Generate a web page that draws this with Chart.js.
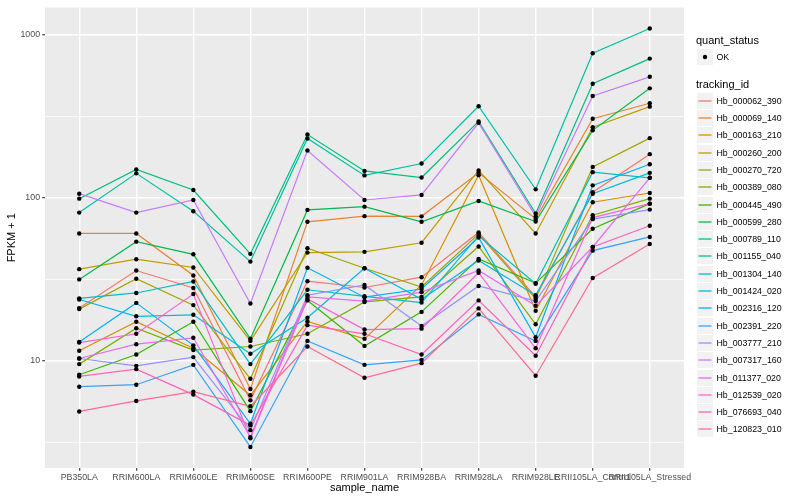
<!DOCTYPE html>
<html>
<head>
<meta charset="utf-8">
<script src="https://cdn.jsdelivr.net/npm/chart.js@4.4.1/dist/chart.umd.min.js"></script>
<style>
  html, body { margin: 0; padding: 0; background: #FFFFFF; }
  #wrap { position: relative; width: 800px; height: 500px; font-family: "Liberation Sans", Arial, sans-serif; }
  #c { position: absolute; left: 0; top: 0; }
  .lg { position: absolute; white-space: nowrap; color: #000; }
  .title { font-size: 11px; line-height: 13px; }
  .lab { font-size: 8.8px; line-height: 11px; }
  .key { position: absolute; width: 16px; height: 16px; background: #F2F2F2; }
  .key svg { position: absolute; left: 0; top: 0; }
</style>
</head>
<body>
<div id="wrap">
  <canvas id="c" width="800" height="500"></canvas>
  <div id="legend"></div>
</div>
<script>
// ---- data ----
const categories = ['PB350LA','RRIM600LA','RRIM600LE','RRIM600SE','RRIM600PE','RRIM901LA','RRIM928BA','RRIM928LA','RRIM928LE','RRII105LA_Control','RRII105LA_Stressed'];

const Hb_000062_390 = [21.0, 35.7, 27.9, 5.70, 30.7, 28.1, 32.5, 61.2, 24.6, 108, 185];
const Hb_000069_140 = [60.3, 60.3, 33.3, 6.69, 71.1, 77.0, 76.8, 142, 74.1, 305, 380];
const Hb_000163_210 = [11.5, 17.3, 11.9, 6.12, 17.4, 13.6, 29.1, 137.5, 20.2, 93.8, 106.8];
const Hb_000260_200 = [36.4, 41.9, 37.3, 13.2, 46.0, 46.5, 52.9, 147, 60.3, 271, 362];
const Hb_000270_720 = [20.7, 31.8, 21.9, 7.73, 48.9, 36.9, 28.3, 59.8, 24.0, 154.5, 232];
const Hb_000389_080 = [9.51, 15.8, 11.6, 12.2, 14.6, 22.9, 24.6, 50.2, 16.7, 78.1, 98.6];
const Hb_000445_490 = [8.18, 10.9, 17.3, 4.89, 23.4, 12.3, 19.9, 42.1, 29.9, 64.4, 91.9];
const Hb_000599_280 = [31.5, 53.7, 44.9, 13.6, 84.1, 88.1, 71.1, 95.5, 71.4, 259, 469];
const Hb_000789_110 = [98.6, 149, 111.4, 45.2, 244, 146, 133, 294, 79.9, 500, 714];
const Hb_001155_040 = [81.0, 141, 82.6, 40.5, 231, 137, 162, 364, 112.5, 770, 1094];
const Hb_001304_140 = [24.1, 26.0, 30.6, 9.51, 27.2, 24.8, 22.7, 58.4, 29.6, 143.4, 132.4];
const Hb_001424_020 = [23.7, 18.7, 19.1, 11.0, 18.3, 36.9, 23.8, 41.1, 25.2, 105.8, 142];
const Hb_002316_120 = [13.0, 22.6, 12.4, 4.09, 37.1, 24.5, 27.5, 57.0, 13.9, 119, 160.5];
const Hb_002391_220 = [6.91, 7.11, 9.41, 2.95, 13.2, 9.41, 10.1, 19.2, 13.2, 47.3, 57.4];
const Hb_003777_210 = [10.3, 9.28, 10.5, 3.74, 25.2, 29.1, 16.3, 28.7, 23.2, 73.8, 84.5];
const Hb_007317_160 = [105.8, 81.0, 96.8, 22.4, 195, 96.8, 103.9, 288, 76.8, 421, 552];
const Hb_011377_020 = [10.3, 12.6, 13.8, 3.39, 24.6, 23.2, 26.3, 35.7, 21.7, 49.8, 132.4];
const Hb_012539_020 = [12.9, 14.6, 25.6, 3.33, 23.9, 15.5, 15.7, 34.6, 11.9, 75.5, 91.9];
const Hb_076693_040 = [7.99, 8.86, 6.18, 4.00, 16.5, 14.6, 10.9, 23.4, 10.7, 49.8, 67.2];
const Hb_120823_010 = [4.87, 5.65, 6.44, 5.24, 12.2, 7.84, 9.64, 20.9, 8.07, 32.1, 52.0];

const trackingIds = ['Hb_000062_390','Hb_000069_140','Hb_000163_210','Hb_000260_200','Hb_000270_720','Hb_000389_080','Hb_000445_490','Hb_000599_280','Hb_000789_110','Hb_001155_040','Hb_001304_140','Hb_001424_020','Hb_002316_120','Hb_002391_220','Hb_003777_210','Hb_007317_160','Hb_011377_020','Hb_012539_020','Hb_076693_040','Hb_120823_010'];
const seriesValues = [Hb_000062_390,Hb_000069_140,Hb_000163_210,Hb_000260_200,Hb_000270_720,Hb_000389_080,Hb_000445_490,Hb_000599_280,Hb_000789_110,Hb_001155_040,Hb_001304_140,Hb_001424_020,Hb_002316_120,Hb_002391_220,Hb_003777_210,Hb_007317_160,Hb_011377_020,Hb_012539_020,Hb_076693_040,Hb_120823_010];
const seriesColors = ['#F8766D','#EA8331','#D89000','#C09B00','#A3A500','#7CAE00','#39B600','#00BB4E','#00BF7D','#00C1A3','#00BFC4','#00BAE0','#00B0F6','#35A2FF','#9590FF','#C77CFF','#E76BF3','#FA62DB','#FF62BC','#FF6C91'];

const yMajorTicks = [10, 100, 1000];
const yMinorTicks = [3.1623, 31.623, 316.23];
const quantStatus = ['OK'];

// ---- chart ----
const FONT = '"Liberation Sans", Arial, sans-serif';

const datasets = seriesValues.map((vals, i) => ({
  type: 'line',
  label: trackingIds[i],
  data: vals.map((v, j) => ({ x: j, y: v })),
  borderColor: seriesColors[i],
  borderWidth: 1.2,
  pointRadius: 0,
  tension: 0,
  order: 100 - i
}));
const allPoints = [];
seriesValues.forEach(vals => vals.forEach((v, j) => allPoints.push({ x: j, y: v })));
datasets.push({
  type: 'scatter',
  label: quantStatus[0],
  data: allPoints,
  showLine: false,
  pointRadius: 2.2,
  pointBackgroundColor: '#000000',
  pointBorderWidth: 0,
  order: 0
});

const panelBg = {
  id: 'panelBg',
  beforeDraw(chart) {
    const { ctx, chartArea: a } = chart;
    ctx.save();
    ctx.fillStyle = '#FFFFFF';
    ctx.fillRect(0, 0, chart.width, chart.height);
    ctx.fillStyle = '#EBEBEB';
    ctx.fillRect(a.left, a.top, a.right - a.left, a.bottom - a.top);
    ctx.restore();
  }
};

const isMajor = v => yMajorTicks.some(m => Math.abs(m - v) < 1e-6);

new Chart(document.getElementById('c'), {
  type: 'line',
  data: { datasets },
  options: {
    responsive: false,
    animation: false,
    devicePixelRatio: 1,
    layout: { padding: { top: 5, right: 116, left: 0, bottom: 0 } },
    plugins: { legend: { display: false }, tooltip: { enabled: false } },
    scales: {
      x: {
        type: 'linear',
        min: -0.6,
        max: 10.6,
        afterBuildTicks: s => { s.ticks = categories.map((c, i) => ({ value: i })); },
        afterFit: s => { s.height = 32; },
        ticks: {
          autoSkip: false, maxRotation: 0, minRotation: 0,
          callback: v => categories[v],
          color: '#4D4D4D', font: { family: FONT, size: 8.8 }, padding: 1.5
        },
        grid: { color: '#FFFFFF', lineWidth: 1.4, drawTicks: true, tickLength: 2.75, tickColor: '#333333', tickWidth: 1.1 },
        border: { display: false },
        title: { display: true, text: 'sample_name', color: '#000000', font: { family: FONT, size: 11 }, padding: { top: 0, bottom: 5 } }
      },
      y: {
        type: 'logarithmic',
        min: 2.19,
        max: 1471,
        afterBuildTicks: s => {
          s.ticks = yMinorTicks.concat(yMajorTicks).sort((a, b) => a - b).map(v => ({ value: v }));
        },
        afterFit: s => { s.width = 45; },
        ticks: {
          autoSkip: false,
          callback: v => isMajor(v) ? String(v) : '',
          color: '#4D4D4D', font: { family: FONT, size: 8.8 }, padding: 2.2
        },
        grid: {
          color: '#FFFFFF',
          lineWidth: c => (c.tick && isMajor(c.tick.value)) ? 1.4 : 0.7,
          drawTicks: true, tickLength: 2.75,
          tickColor: c => (c.tick && isMajor(c.tick.value)) ? '#333333' : 'rgba(0,0,0,0)',
          tickWidth: 1.1
        },
        border: { display: false },
        title: { display: true, text: 'FPKM + 1', color: '#000000', font: { family: FONT, size: 11 }, padding: { top: 5.5, bottom: 0 } }
      }
    }
  },
  plugins: [panelBg]
});

// ---- legend (HTML text) ----
const SVGNS = 'http://www.w3.org/2000/svg';
const lg = document.getElementById('legend');
function addDiv(cls, text, left, centerY, lh) {
  const d = document.createElement('div');
  d.className = 'lg ' + cls;
  d.textContent = text;
  d.style.left = left + 'px';
  d.style.top = Math.round(centerY - lh / 2) + 'px';
  lg.appendChild(d);
  return d;
}
function addKey(top, drawFn) {
  const k = document.createElement('div');
  k.className = 'key';
  k.style.left = '697px';
  k.style.top = top + 'px';
  const svg = document.createElementNS(SVGNS, 'svg');
  svg.setAttribute('width', '16');
  svg.setAttribute('height', '16');
  drawFn(svg);
  k.appendChild(svg);
  lg.appendChild(k);
}
addDiv('title', 'quant_status', 696, 40.5, 13);
addKey(49, svg => {
  const c = document.createElementNS(SVGNS, 'circle');
  c.setAttribute('cx', '8'); c.setAttribute('cy', '8'); c.setAttribute('r', '2.2');
  c.setAttribute('fill', '#000000');
  svg.appendChild(c);
});
addDiv('lab', quantStatus[0], 716.5, 57.3, 11);
addDiv('title', 'tracking_id', 696, 84.5, 13);
trackingIds.forEach((id, i) => {
  const cy = 100.7 + 17.3 * i;
  const top = Math.round(cy - 8);
  addKey(top, svg => {
    const l = document.createElementNS(SVGNS, 'line');
    l.setAttribute('x1', '1.5'); l.setAttribute('x2', '14.5');
    l.setAttribute('y1', '8'); l.setAttribute('y2', '8');
    l.setAttribute('stroke', seriesColors[i]);
    l.setAttribute('stroke-width', '1.3');
    svg.appendChild(l);
  });
  addDiv('lab', id, 716.5, top + 8, 11);
});
</script>
</body>
</html>
